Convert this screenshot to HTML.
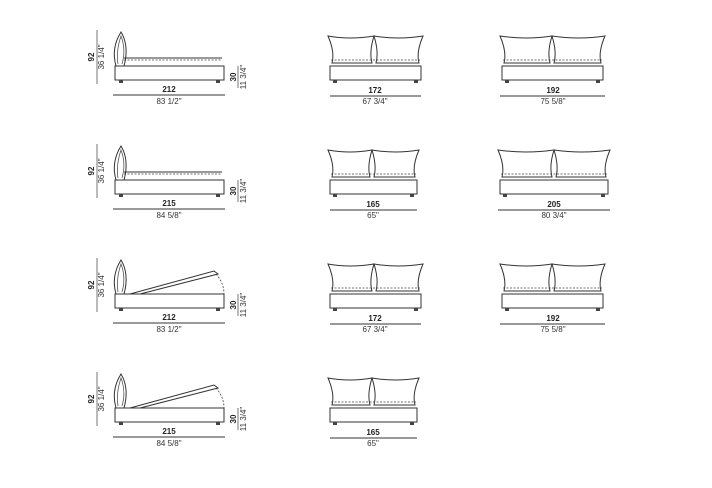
<!DOCTYPE html>
<html><head><meta charset="utf-8"><style>
html,body{margin:0;padding:0;background:#fff;}
svg{display:block;font-family:"Liberation Sans",Arial,sans-serif;}
.s{fill:none;stroke:#333;stroke-width:1}
.t{fill:none;stroke:#555;stroke-width:0.8}
.d{fill:none;stroke:#444;stroke-width:0.8;stroke-dasharray:2 1.5}
.f{fill:#444}
.b{font-size:8px;font-weight:bold;fill:#222}
.n{font-size:8px;fill:#333}
</style></head><body>
<svg width="712" height="488" viewBox="0 0 712 488">
<defs>
<g id="side">
<path class="s" d="M116,66 C112,52 116,40 121,32 C126,40 128,52 124,66"/>
<path class="t" d="M118,64 C116,52 119,42 121,36 C124,44 125,54 122,64"/>
<line class="d" x1="124" y1="60" x2="222" y2="60"/>
<line class="s" x1="124" y1="58" x2="222" y2="58"/>
<rect class="s" x="115" y="66" width="109" height="14"/>
<rect class="f" x="119" y="80" width="4" height="3"/>
<rect class="f" x="216" y="80" width="4" height="3"/>
<line class="t" x1="97" y1="30" x2="97" y2="84"/>
<line class="t" x1="238" y1="66" x2="238" y2="88"/>
<line class="s" x1="113" y1="95" x2="225" y2="95"/>
</g>
<g id="sideopen">
<path class="s" d="M116,66 C112,52 116,40 121,32 C126,40 128,52 124,66"/>
<path class="t" d="M118,64 C116,52 119,42 121,36 C124,44 125,54 122,64"/>
<path class="s" d="M130,66 L214,43 L218,46 L140,66"/>
<path class="d" d="M216,46 Q224,55 224,66"/>
<rect class="s" x="115" y="66" width="109" height="14"/>
<rect class="f" x="119" y="80" width="4" height="3"/>
<rect class="f" x="216" y="80" width="4" height="3"/>
<line class="t" x1="97" y1="30" x2="97" y2="84"/>
<line class="t" x1="238" y1="66" x2="238" y2="88"/>
<line class="s" x1="113" y1="95" x2="225" y2="95"/>
</g>
</defs>

<!-- side views -->
<g>
<use href="#side"/>
<text class="b" transform="translate(94,57) rotate(-90)" text-anchor="middle">92</text>
<text class="n" transform="translate(104,57) rotate(-90)" text-anchor="middle">36 1/4"</text>
<text class="b" transform="translate(236,77) rotate(-90)" text-anchor="middle">30</text>
<text class="n" transform="translate(246,77) rotate(-90)" text-anchor="middle">11 3/4"</text>
<text class="b" x="169" y="92" text-anchor="middle">212</text>
<text class="n" x="169" y="104" text-anchor="middle">83 1/2"</text>
</g>
<g transform="translate(0,114)">
<use href="#side"/>
<text class="b" transform="translate(94,57) rotate(-90)" text-anchor="middle">92</text>
<text class="n" transform="translate(104,57) rotate(-90)" text-anchor="middle">36 1/4"</text>
<text class="b" transform="translate(236,77) rotate(-90)" text-anchor="middle">30</text>
<text class="n" transform="translate(246,77) rotate(-90)" text-anchor="middle">11 3/4"</text>
<text class="b" x="169" y="92" text-anchor="middle">215</text>
<text class="n" x="169" y="104" text-anchor="middle">84 5/8"</text>
</g>
<g transform="translate(0,228)">
<use href="#sideopen"/>
<text class="b" transform="translate(94,57) rotate(-90)" text-anchor="middle">92</text>
<text class="n" transform="translate(104,57) rotate(-90)" text-anchor="middle">36 1/4"</text>
<text class="b" transform="translate(236,77) rotate(-90)" text-anchor="middle">30</text>
<text class="n" transform="translate(246,77) rotate(-90)" text-anchor="middle">11 3/4"</text>
<text class="b" x="169" y="92" text-anchor="middle">212</text>
<text class="n" x="169" y="104" text-anchor="middle">83 1/2"</text>
</g>
<g transform="translate(0,342)">
<use href="#sideopen"/>
<text class="b" transform="translate(94,57) rotate(-90)" text-anchor="middle">92</text>
<text class="n" transform="translate(104,57) rotate(-90)" text-anchor="middle">36 1/4"</text>
<text class="b" transform="translate(236,77) rotate(-90)" text-anchor="middle">30</text>
<text class="n" transform="translate(246,77) rotate(-90)" text-anchor="middle">11 3/4"</text>
<text class="b" x="169" y="92" text-anchor="middle">215</text>
<text class="n" x="169" y="104" text-anchor="middle">84 5/8"</text>
</g>

<!-- front 172 row1 -->
<g>
<path class="s" d="M328,36 Q350,40 374,36 Q369,52 372,63 L332,63 Q335,52 328,36 Z"/>
<path class="s" d="M374,36 Q398,40 423,36 Q416,52 419,63 L376,63 Q379,52 374,36 Z"/>
<line class="d" x1="331" y1="60" x2="420" y2="60"/>
<rect class="s" x="330" y="66" width="91" height="14"/>
<rect class="f" x="333" y="80" width="4" height="3"/><rect class="f" x="414" y="80" width="4" height="3"/>
<line class="s" x1="330" y1="96" x2="421" y2="96"/>
<text class="b" x="375" y="93" text-anchor="middle">172</text>
<text class="n" x="375" y="104" text-anchor="middle">67 3/4"</text>
</g>
<!-- front 192 row1 -->
<g>
<path class="s" d="M500,36 Q526,40 552,36 Q547,52 550,63 L504,63 Q507,52 500,36 Z"/>
<path class="s" d="M552,36 Q579,40 605,36 Q598,52 601,63 L554,63 Q557,52 552,36 Z"/>
<line class="d" x1="503" y1="60" x2="602" y2="60"/>
<rect class="s" x="502" y="66" width="101" height="14"/>
<rect class="f" x="505" y="80" width="4" height="3"/><rect class="f" x="596" y="80" width="4" height="3"/>
<line class="s" x1="500" y1="96" x2="605" y2="96"/>
<text class="b" x="553" y="93" text-anchor="middle">192</text>
<text class="n" x="553" y="104" text-anchor="middle">75 5/8"</text>
</g>
<!-- row2 165 -->
<g transform="translate(0,114)">
<path class="s" d="M328,36 Q350,40 372,36 Q367,52 370,63 L332,63 Q335,52 328,36 Z"/>
<path class="s" d="M372,36 Q395,40 419,36 Q412,52 415,63 L374,63 Q377,52 372,36 Z"/>
<line class="d" x1="331" y1="60" x2="416" y2="60"/>
<rect class="s" x="330" y="66" width="87" height="14"/>
<rect class="f" x="333" y="80" width="4" height="3"/><rect class="f" x="410" y="80" width="4" height="3"/>
<line class="s" x1="330" y1="96" x2="417" y2="96"/>
<text class="b" x="373" y="93" text-anchor="middle">165</text>
<text class="n" x="373" y="104" text-anchor="middle">65"</text>
</g>
<!-- row2 205 -->
<g transform="translate(0,114)">
<path class="s" d="M498,36 Q526,40 554,36 Q549,52 552,63 L502,63 Q505,52 498,36 Z"/>
<path class="s" d="M554,36 Q582,40 610,36 Q603,52 606,63 L556,63 Q559,52 554,36 Z"/>
<line class="d" x1="501" y1="60" x2="607" y2="60"/>
<rect class="s" x="500" y="66" width="108" height="14"/>
<rect class="f" x="503" y="80" width="4" height="3"/><rect class="f" x="601" y="80" width="4" height="3"/>
<line class="s" x1="498" y1="96" x2="610" y2="96"/>
<text class="b" x="554" y="93" text-anchor="middle">205</text>
<text class="n" x="554" y="104" text-anchor="middle">80 3/4"</text>
</g>
<!-- row3 172 -->
<g transform="translate(0,228)">
<path class="s" d="M328,36 Q350,40 374,36 Q369,52 372,63 L332,63 Q335,52 328,36 Z"/>
<path class="s" d="M374,36 Q398,40 423,36 Q416,52 419,63 L376,63 Q379,52 374,36 Z"/>
<line class="d" x1="331" y1="60" x2="420" y2="60"/>
<rect class="s" x="330" y="66" width="91" height="14"/>
<rect class="f" x="333" y="80" width="4" height="3"/><rect class="f" x="414" y="80" width="4" height="3"/>
<line class="s" x1="330" y1="96" x2="421" y2="96"/>
<text class="b" x="375" y="93" text-anchor="middle">172</text>
<text class="n" x="375" y="104" text-anchor="middle">67 3/4"</text>
</g>
<!-- row3 192 -->
<g transform="translate(0,228)">
<path class="s" d="M500,36 Q526,40 552,36 Q547,52 550,63 L504,63 Q507,52 500,36 Z"/>
<path class="s" d="M552,36 Q579,40 605,36 Q598,52 601,63 L554,63 Q557,52 552,36 Z"/>
<line class="d" x1="503" y1="60" x2="602" y2="60"/>
<rect class="s" x="502" y="66" width="101" height="14"/>
<rect class="f" x="505" y="80" width="4" height="3"/><rect class="f" x="596" y="80" width="4" height="3"/>
<line class="s" x1="500" y1="96" x2="605" y2="96"/>
<text class="b" x="553" y="93" text-anchor="middle">192</text>
<text class="n" x="553" y="104" text-anchor="middle">75 5/8"</text>
</g>
<!-- row4 165 -->
<g transform="translate(0,342)">
<path class="s" d="M328,36 Q350,40 372,36 Q367,52 370,63 L332,63 Q335,52 328,36 Z"/>
<path class="s" d="M372,36 Q395,40 419,36 Q412,52 415,63 L374,63 Q377,52 372,36 Z"/>
<line class="d" x1="331" y1="60" x2="416" y2="60"/>
<rect class="s" x="330" y="66" width="87" height="14"/>
<rect class="f" x="333" y="80" width="4" height="3"/><rect class="f" x="410" y="80" width="4" height="3"/>
<line class="s" x1="330" y1="96" x2="417" y2="96"/>
<text class="b" x="373" y="93" text-anchor="middle">165</text>
<text class="n" x="373" y="104" text-anchor="middle">65"</text>
</g>
</svg>
</body></html>
